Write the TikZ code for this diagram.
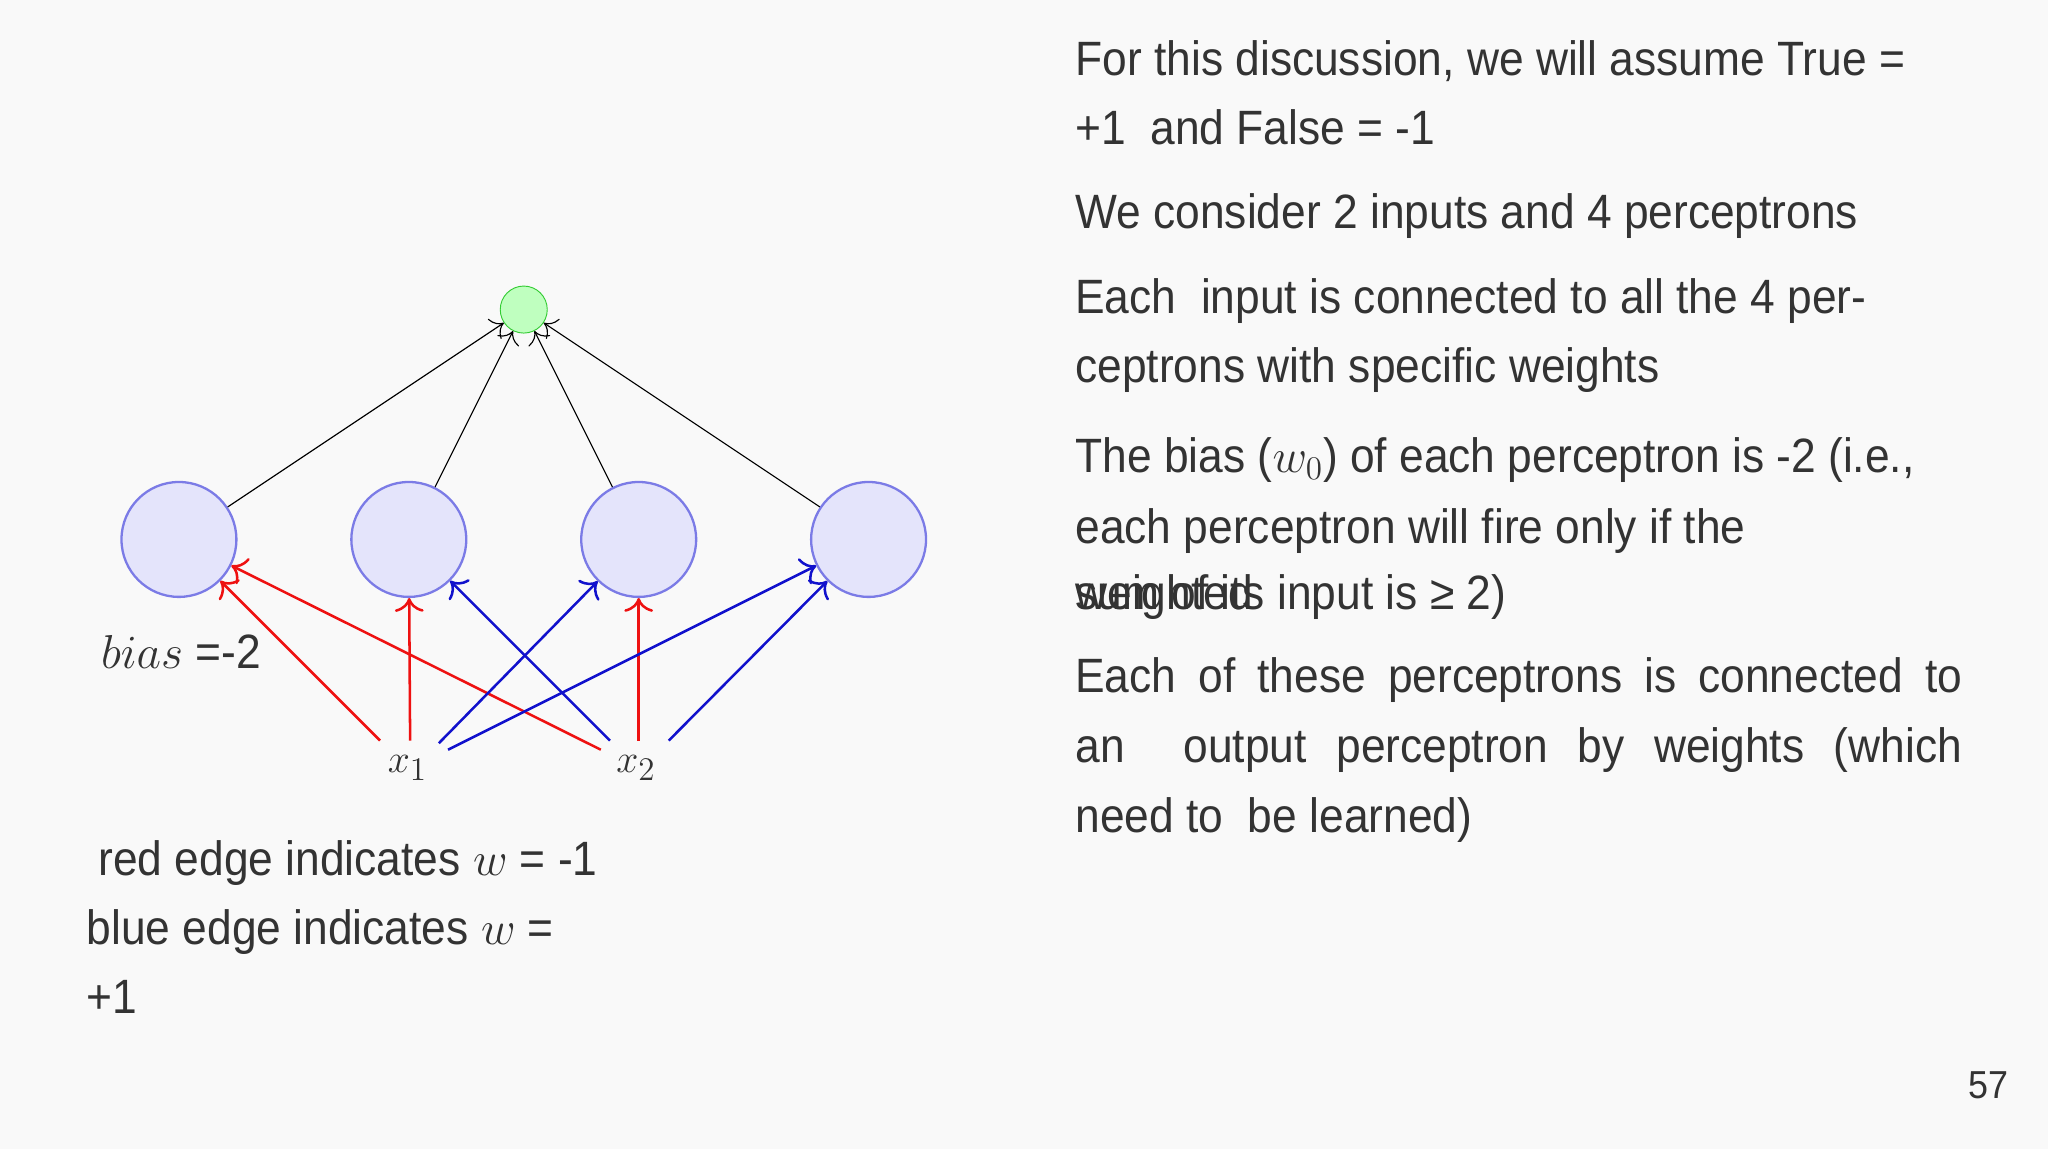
\documentclass[tikz,border=0pt]{standalone}
\usepackage{fontspec}
\setmainfont[FakeStretch=0.92]{Liberation Sans}
\usetikzlibrary{arrows.meta}
\definecolor{bg}{HTML}{F9F9F9}
\definecolor{txt}{HTML}{333333}
\definecolor{cfill}{HTML}{E4E4FB}
\definecolor{cdraw}{HTML}{7B7BE6}
\definecolor{ered}{HTML}{EE1111}
\definecolor{eblue}{HTML}{1111CC}
\begin{document}
\begin{tikzpicture}[x=0.02cm,y=-0.02cm,
  tl/.style={anchor=base west,inner sep=0,text=txt,font=\fontsize{21}{25}\selectfont},
  hid/.style={circle,draw=cdraw,fill=cfill,line width=1pt,minimum size=1.76cm,inner sep=0},
  outn/.style={circle,draw=green!60!gray,fill=green!25,minimum size=0.72cm,inner sep=0},
  blk/.style={-{To[length=5pt]},line width=0.5pt,black},
  red/.style={-{To[length=6pt]},line width=1.1pt,ered},
  blu/.style={-{To[length=6pt]},line width=1.1pt,eblue}]
\fill[bg] (0,0) rectangle (1568,880);
\useasboundingbox (0,0) rectangle (1568,880);
\node[outn] (o) at (401,237) {};
\node[hid] (h1) at (137,413) {};
\node[hid] (h2) at (313,413) {};
\node[hid] (h3) at (489,413) {};
\node[hid] (h4) at (665,413) {};
\node[inner sep=1pt,text=txt] (x1) at (312,588) {\fontsize{19}{22}\selectfont$x_1$};
\node[inner sep=1pt,text=txt] (x2) at (487,588) {\fontsize{19}{22}\selectfont$x_2$};
\coordinate (x1a) at (291,567);\coordinate (x1b) at (314,567);\coordinate (x1c) at (336,569);\coordinate (x1d) at (343,574);
\coordinate (x2a) at (460,574);\coordinate (x2b) at (467,567);\coordinate (x2c) at (489,567);\coordinate (x2d) at (512,567);
\draw[blk] (h1) -- (o);
\draw[blk] (h2) -- (o);
\draw[blk] (h3) -- (o);
\draw[blk] (h4) -- (o);
\draw[red] (x1a) -- (h1);
\draw[red] (x1b) -- (h2);
\draw[red] (x2a) -- (h1);
\draw[red] (x2c) -- (h3);
\draw[blu] (x2b) -- (h2);
\draw[blu] (x1c) -- (h3);
\draw[blu] (x1d) -- (h4);
\draw[blu] (x2d) -- (h4);
\node[tl] (b) at (77,512) {$bias$ =-2};
\node[tl] (l1) at (75,670) {red edge indicates $w$ = -1};
\node[tl] (l2) at (66,723) {blue edge indicates $w$ =};
\node[tl] (l3) at (66,776) {+1};
\node[tl] (t1) at (823,58) {For this discussion, we will assume True =};
\node[tl] (t2) at (823,111) {+1\ \ and False = -1};
\node[tl] (t3) at (823,175) {We consider 2 inputs and 4 perceptrons};
\node[tl] (t4) at (823,240) {Each\ \ input is connected to all the 4 per-};
\node[tl] (t5) at (823,293) {ceptrons with specific weights};
\node[tl] (t6) at (823,362) {The bias ($w_0$) of each perceptron is -2 (i.e.,};
\node[tl] (t7) at (823,416) {each perceptron will fire only if the};
\node[tl] (t8) at (823,467) {sum of its input is ≥ 2)};
\node[tl] (t8b) at (823,467) {weighted};
\node[tl] (t9) at (823,530) {\makebox[13.58cm][s]{Each of these perceptrons is connected to}};
\node[tl] (t10) at (823,584) {\makebox[13.58cm][s]{an\ \ output perceptron by weights (which}};
\node[tl] (t11) at (823,637) {need to\ \ be learned)};
\node[tl,font=\fontsize{17}{20}\selectfont] (pg) at (1507,841) {57};
\end{tikzpicture}
\end{document}
